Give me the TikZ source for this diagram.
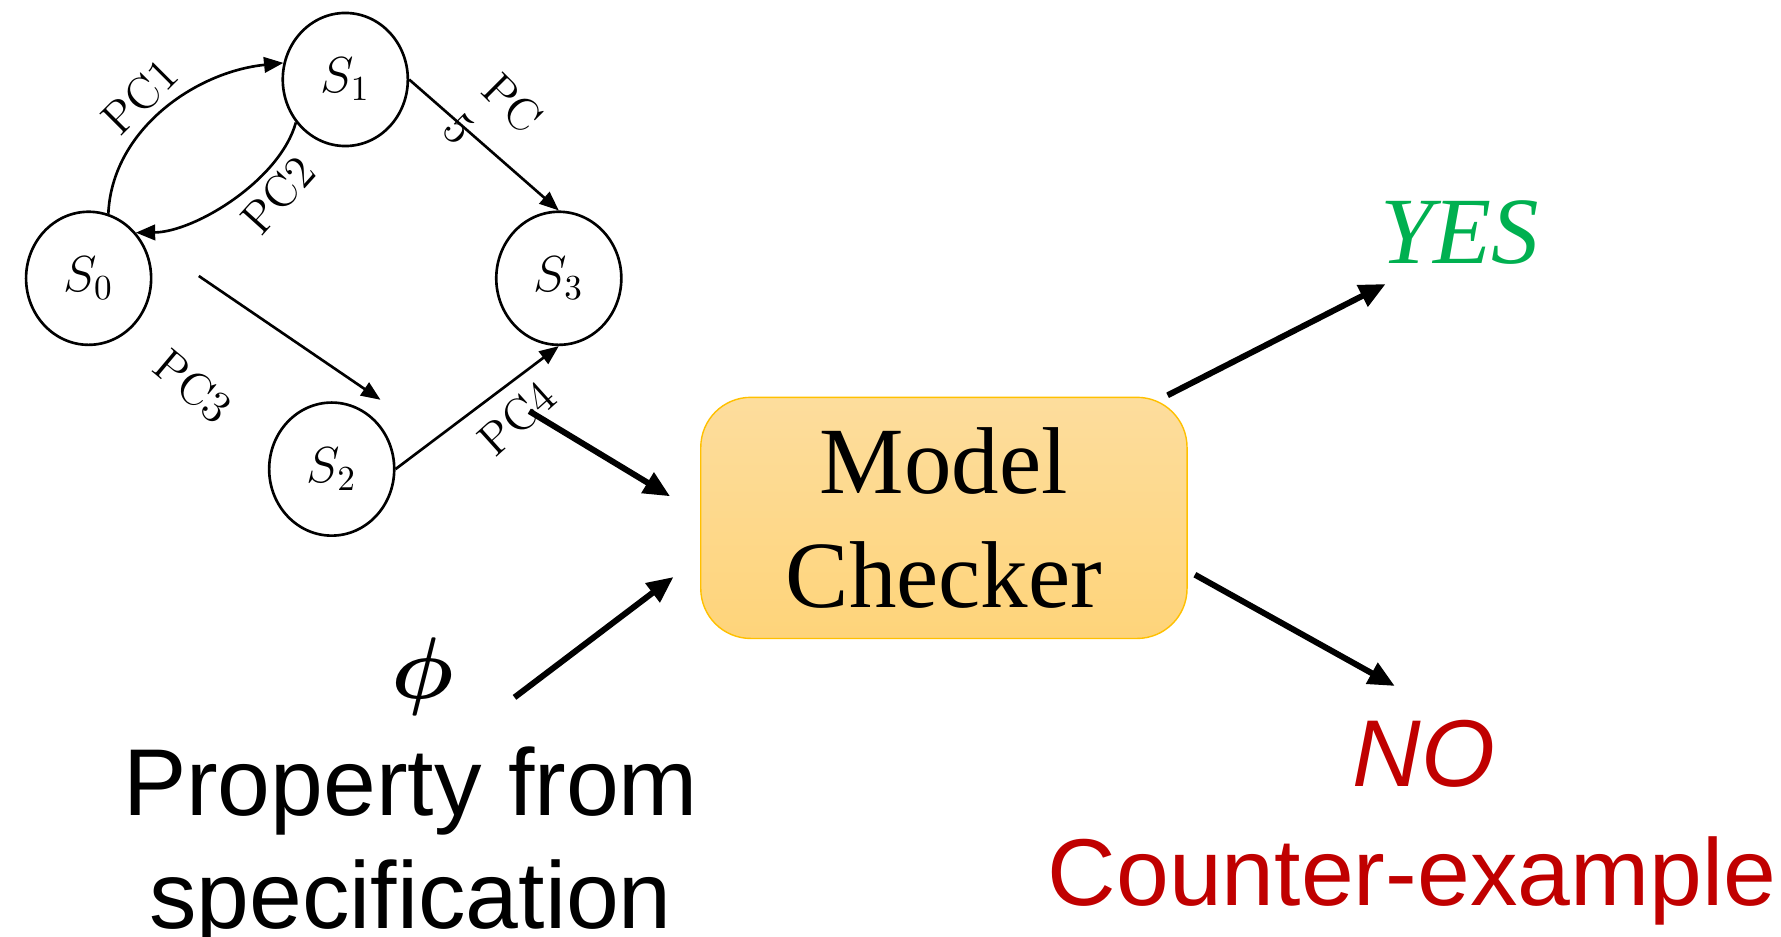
\documentclass[tikz,border=0pt]{standalone}
\usepackage{fontspec}
\usepackage{bm}
\usetikzlibrary{arrows.meta,shapes.geometric}
\newfontfamily\arialfont{Liberation Sans}
\newfontfamily\timesfont{Liberation Serif}
\definecolor{yesgreen}{HTML}{00B050}
\definecolor{nored}{HTML}{C00000}
\definecolor{boxtop}{HTML}{FDDD9D}
\definecolor{boxbottom}{HTML}{FED47A}
\definecolor{boxedge}{HTML}{FFC000}
\tikzset{
  state/.style={ellipse, draw, line width=0.75pt, minimum width=1.25cm,
    minimum height=1.33cm, inner sep=0pt, font=\fontsize{14}{16}\selectfont},
  trans/.style={line width=0.75pt, -{Triangle[length=5.5pt,width=4.4pt]}},
  pclabel/.style={font=\fontsize{13}{15.6}\selectfont, inner sep=0pt},
  flow/.style={line width=1.7pt, -{Triangle[length=7.5pt,width=6.5pt]}},
  mcbox/.style={draw=boxedge, line width=0.4pt, rounded corners=0.5cm,
    top color=boxtop, bottom color=boxbottom, minimum width=4.86cm,
    minimum height=2.41cm, align=center,
    font=\timesfont\fontsize{27}{32.3}\selectfont},
  bigtext/.style={font=\fontsize{27}{32}\selectfont, inner sep=0pt}
}
\begin{document}
\begin{tikzpicture}[x=0.01cm,y=-0.01cm]
\useasboundingbox (0,0) rectangle (1781,937);

% states of the transition system
\node[state] (s0) at (88.6,278.3) {$S_0$};
\node[state] (s1) at (345.3,79.5) {$S_1$};
\node[state] (s3) at (558.8,278.3) {$S_3$};
\node[state] (s2) at (331.7,469.1) {$S_2$};

% transitions
\draw[trans] (s0.73) .. controls (112,130) and (195,72) .. (s1.165);
\draw[trans] (s1.221) .. controls (280,180) and (195,232) .. (s0.44);
\draw[trans] (s1.east) -- (s3.north);
\draw[trans] (s2.east) -- (s3.south);
\coordinate (pc3-from) at (198.8,276);
\coordinate (pc3-to) at (380.5,399.8);
\draw[trans] (pc3-from) -- (pc3-to);

% transition labels
\node[pclabel, rotate=45] (l1) at (139.7,96.5) {PC1};
\node[pclabel, rotate=48] (l2) at (278.3,195.4) {PC2};
\node[pclabel, rotate=-40] (l3) at (193.1,386.2) {PC3};
\node[pclabel, rotate=42] (l4) at (516.8,418) {PC4};
\node[pclabel, rotate=-45, align=left] (l5) at (493,122.8) {PC\\5};

% model checker
\node[mcbox] (mc) at (943.9,517.9) {Model\\Checker};

% property
\node[bigtext, font=\fontsize{33}{36}\selectfont] (phi) at (422.5,677) {$\bm{\phi}$};
\node[bigtext, anchor=base, font=\arialfont\fontsize{27}{32}\selectfont] (prop1) at (410.6,815.5) {Property from};
\node[bigtext, anchor=base, font=\arialfont\fontsize{27}{32}\selectfont] (prop2) at (410.6,929) {specification};

% results
\node[bigtext, anchor=base, text=yesgreen, font=\timesfont\itshape\fontsize{27}{32}\selectfont] (yes) at (1460,263.5) {YES};
\node[bigtext, anchor=base, text=nored, font=\arialfont\itshape\fontsize{27}{32}\selectfont] (no) at (1424,786) {NO};
\node[bigtext, anchor=base, text=nored, font=\arialfont\fontsize{27}{32}\selectfont] (cex) at (1412,905) {Counter-example};

% flow arrows
\coordinate (g-out) at (529.3,411.2);
\coordinate (mc-in1) at (670.1,496.3);
\coordinate (phi-out) at (514.5,697.4);
\coordinate (mc-in2) at (673.5,577);
\coordinate (mc-out1) at (1167.6,395.3);
\coordinate (yes-in) at (1385.7,284);
\coordinate (mc-out2) at (1194.9,574.7);
\coordinate (no-in) at (1394.8,686);
\draw[flow] (g-out) -- (mc-in1);
\draw[flow] (phi-out) -- (mc-in2);
\draw[flow] (mc-out1) -- (yes-in);
\draw[flow] (mc-out2) -- (no-in);
\end{tikzpicture}
\end{document}
